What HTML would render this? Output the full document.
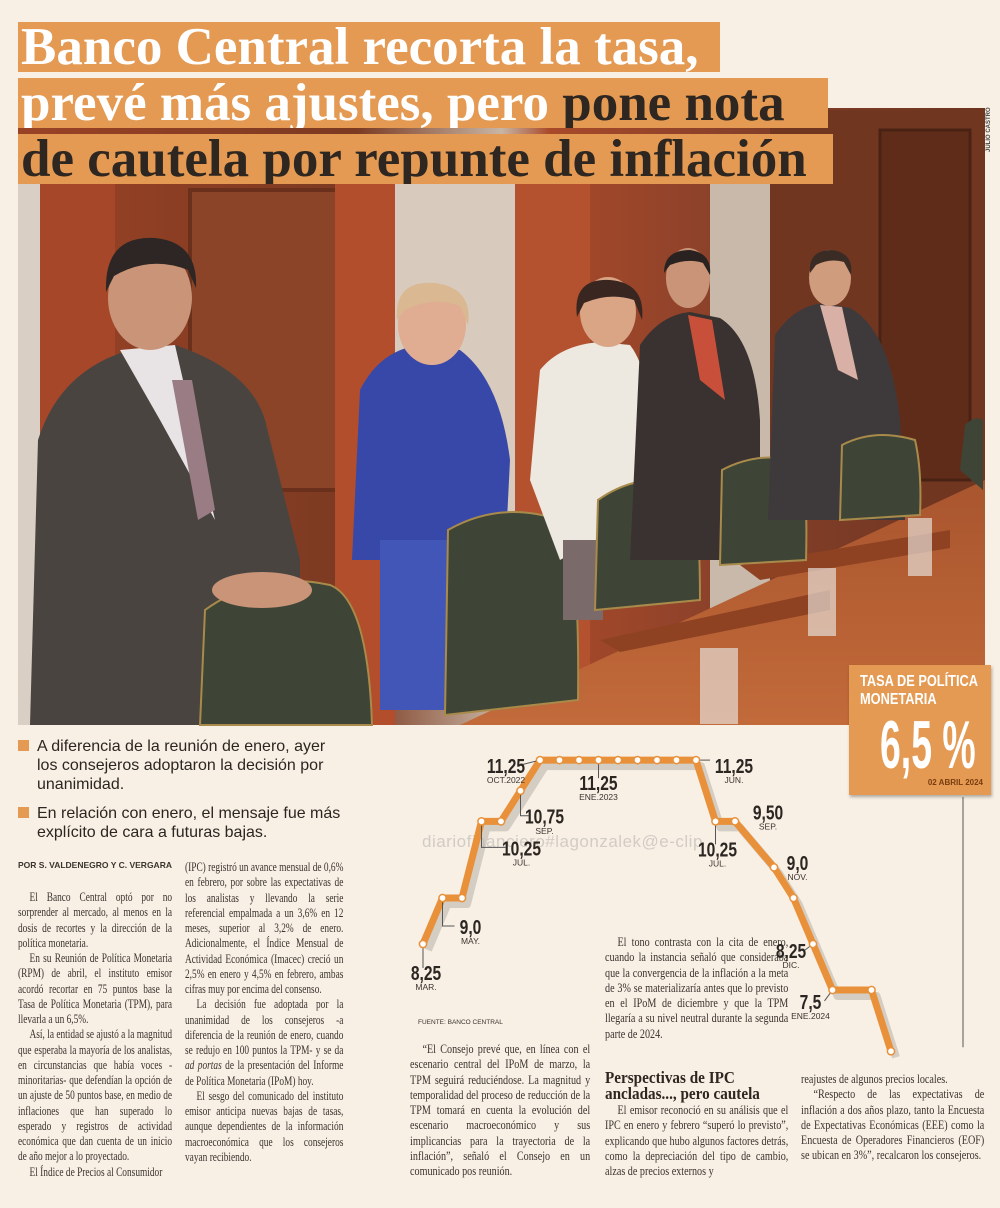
<!DOCTYPE html>
<html><head><meta charset="utf-8">
<style>
html,body{margin:0;padding:0;}
body{width:1000px;height:1208px;background:#f8f0e4;position:relative;overflow:hidden;font-family:"Liberation Serif",serif;color:#2b2622;}
.abs{position:absolute;}
.hl{position:absolute;left:18px;background:#e49a52;font-family:"Liberation Serif",serif;font-weight:bold;font-size:53px;line-height:50px;white-space:nowrap;overflow:hidden;}
.hl div{padding-left:3px;}
.w{color:#fff;} .d{color:#2e2620;}
.col{position:absolute;font-size:13px;line-height:15.25px;text-align:justify;color:#3a3430;transform:scaleX(0.78);transform-origin:left top;}
.col.n{transform:scaleX(0.72);}
.col p{margin:0;text-indent:16px;}
.bul{position:absolute;left:18px;font-family:"Liberation Sans",sans-serif;font-size:16px;line-height:19px;color:#2b2622;}
.bul span{display:inline-block;width:11px;height:11px;background:#e49a52;margin-right:8px;}
</style></head>
<body>
<svg class="abs" style="left:0;top:0" width="1000" height="730" viewBox="0 0 1000 730">
  <defs>
    <linearGradient id="wood" x1="0" x2="1"><stop offset="0" stop-color="#9a4226"/><stop offset="0.35" stop-color="#7b3a22"/><stop offset="0.5" stop-color="#c8b5a4"/><stop offset="0.55" stop-color="#a8492a"/><stop offset="0.75" stop-color="#86402a"/><stop offset="1" stop-color="#6c3420"/></linearGradient>
    <linearGradient id="tbl" x1="0" y1="0" x2="0" y2="1"><stop offset="0" stop-color="#a9552e"/><stop offset="1" stop-color="#c26a3a"/></linearGradient>
  </defs>
  <rect x="18" y="108" width="967" height="617" fill="url(#wood)"/>
  <rect x="18" y="180" width="22" height="545" fill="#d9cfc4"/>
  <rect x="40" y="180" width="75" height="545" fill="#a6472a"/>
  <rect x="190" y="190" width="150" height="300" fill="#8c4428" stroke="#6a301c" stroke-width="4"/>
  <rect x="335" y="180" width="60" height="545" fill="#b24e2c"/>
  <rect x="395" y="180" width="130" height="420" fill="#d8cabd"/>
  <rect x="515" y="180" width="75" height="500" fill="#b4512e"/>
  <rect x="710" y="180" width="60" height="430" fill="#c9b9aa"/>
  <rect x="770" y="110" width="215" height="400" fill="#713620"/>
  <rect x="880" y="130" width="90" height="350" fill="#5f2c1a" stroke="#4a2214" stroke-width="3"/>
  <polygon points="460,725 985,480 985,725" fill="url(#tbl)"/>
  <polygon points="600,640 830,590 830,610 620,652" fill="#8e4222"/>
  <polygon points="740,565 950,530 950,548 760,580" fill="#8e4222"/>
  <path d="M30,725 L38,440 Q60,370 130,350 L175,345 Q250,370 265,420 L300,560 L300,725 Z" fill="#4a4440"/>
  <polygon points="120,350 175,345 215,520 160,420" fill="#e8e4e6"/>
  <polygon points="172,380 192,380 215,510 198,520" fill="#9a7d84"/>
  <ellipse cx="150" cy="298" rx="42" ry="52" fill="#c99477"/>
  <path d="M106,292 Q104,235 155,238 Q198,242 196,288 L188,270 Q150,255 114,276 Z" fill="#2e2624"/>
  <path d="M200,725 L205,610 Q260,570 330,585 Q368,600 372,725 Z" fill="#3f4536" stroke="#a88a4a" stroke-width="2"/>
  <ellipse cx="262" cy="590" rx="50" ry="18" fill="#c99477"/>
  <path d="M352,560 L360,390 Q380,350 420,345 L460,350 Q500,380 510,460 L505,560 Z" fill="#3848a8"/>
  <rect x="380" y="540" width="80" height="170" fill="#4256b8"/>
  <ellipse cx="432" cy="325" rx="34" ry="40" fill="#e0ad92"/>
  <path d="M397,320 Q394,280 435,283 Q473,288 468,325 L460,306 Q432,296 405,310Z" fill="#d9b892"/>
  <path d="M445,715 L448,530 Q500,500 560,520 Q580,540 578,700 Z" fill="#3f4536" stroke="#a88a4a" stroke-width="2"/>
  <path d="M530,480 L540,370 Q560,345 600,342 L630,345 Q650,370 660,460 L650,510 L560,560 Z" fill="#ede8e0"/>
  <rect x="563" y="540" width="40" height="80" fill="#7b6a6a"/>
  <ellipse cx="608" cy="312" rx="28" ry="35" fill="#d9a585"/>
  <path d="M577,317 Q572,278 610,280 Q646,283 642,320 L634,300 Q610,292 584,303Z" fill="#3a2620"/>
  <path d="M595,610 L598,500 Q640,470 690,485 Q700,510 700,600 Z" fill="#3f4536" stroke="#a88a4a" stroke-width="2"/>
  <path d="M630,560 L640,345 Q660,315 690,312 L720,318 Q755,340 760,420 L760,560Z" fill="#3a3230"/>
  <polygon points="688,315 712,320 725,400 700,380" fill="#c8503a"/>
  <ellipse cx="688" cy="278" rx="22" ry="30" fill="#c99477"/>
  <path d="M664,273 Q664,250 690,250 Q712,253 710,275 L703,263 Q688,258 670,265Z" fill="#2a2220"/>
  <path d="M720,565 L722,470 Q760,450 800,462 Q808,490 806,560 Z" fill="#3f4536" stroke="#a88a4a" stroke-width="2"/>
  <path d="M768,520 L775,335 Q795,305 825,303 L850,308 Q890,330 900,420 L905,520Z" fill="#3e3a3c"/>
  <polygon points="820,305 842,307 858,380 838,370" fill="#d8b0a6"/>
  <ellipse cx="830" cy="278" rx="21" ry="28" fill="#d09c7e"/>
  <path d="M810,273 Q808,250 832,250 Q854,253 851,275 L844,262 Q830,258 816,265Z" fill="#3a2c24"/>
  <path d="M840,520 L842,445 Q875,428 915,440 Q922,470 920,515 Z" fill="#3f4536" stroke="#a88a4a" stroke-width="2"/>
  <path d="M960,470 L965,425 Q975,415 983,420 L983,490Z" fill="#3f4536"/>
  <rect x="908" y="518" width="24" height="58" fill="#e6ddd6" opacity="0.7"/>
  <rect x="808" y="568" width="28" height="68" fill="#e6ddd6" opacity="0.7"/>
  <rect x="700" y="648" width="38" height="76" fill="#e6ddd6" opacity="0.7"/>
  <text x="990" y="152" transform="rotate(-90 990 152)" font-family="Liberation Sans" font-size="6" font-weight="bold" fill="#444">JULIO CASTRO</text>
</svg>

<div class="hl w" style="top:22px;width:702px;height:50px;"><div>Banco Central recorta la tasa,</div></div>
<div class="hl" style="top:78px;width:810px;height:50px;"><div><span class="w">prevé más ajustes, pero </span><span class="d">pone nota</span></div></div>
<div class="hl d" style="top:134px;width:815px;height:50px;"><div>de cautela por repunte de inflación</div></div>

<div class="bul" style="top:737px;width:380px;"><span></span>A diferencia de la reunión de enero, ayer<br><span style="visibility:hidden"></span>los consejeros adoptaron la decisión por<br><span style="visibility:hidden"></span>unanimidad.</div>
<div class="bul" style="top:804px;width:380px;"><span></span>En relación con enero, el mensaje fue más<br><span style="visibility:hidden"></span>explícito de cara a futuras bajas.</div>

<div class="abs" style="left:18px;top:860px;font-family:'Liberation Sans',sans-serif;font-size:8.5px;font-weight:bold;color:#3a3430;">POR S. VALDENEGRO Y C. VERGARA</div>

<div class="col n" style="left:18px;top:889px;width:214px;">
<p>El Banco Central optó por no sorprender al mercado, al menos en la dosis de recortes y la dirección de la política monetaria.</p>
<p>En su Reunión de Política Monetaria (RPM) de abril, el instituto emisor acordó recortar en 75 puntos base la Tasa de Política Monetaria (TPM), para llevarla a un 6,5%.</p>
<p>Así, la entidad se ajustó a la magnitud que esperaba la mayoría de los analistas, en circunstancias que había voces -minoritarias- que defendían la opción de un ajuste de 50 puntos base, en medio de inflaciones que han superado lo esperado y registros de actividad económica que dan cuenta de un inicio de año mejor a lo proyectado.</p>
<p>El Índice de Precios al Consumidor</p>
</div>
<div class="col n" style="left:185px;top:859px;width:220px;">
<p style="text-indent:0">(IPC) registró un avance mensual de 0,6% en febrero, por sobre las expectativas de los analistas y llevando la serie referencial empalmada a un 3,6% en 12 meses, superior al 3,2% de enero. Adicionalmente, el Índice Mensual de Actividad Económica (Imacec) creció un 2,5% en enero y 4,5% en febrero, ambas cifras muy por encima del consenso.</p>
<p>La decisión fue adoptada por la unanimidad de los consejeros -a diferencia de la reunión de enero, cuando se redujo en 100 puntos la TPM- y se da <i>ad portas</i> de la presentación del Informe de Política Monetaria (IPoM) hoy.</p>
<p>El sesgo del comunicado del instituto emisor anticipa nuevas bajas de tasas, aunque dependientes de la información macroeconómica que los consejeros vayan recibiendo.</p>
</div>
<div class="col" style="left:410px;top:1041px;width:231px;">
<p>“El Consejo prevé que, en línea con el escenario central del IPoM de marzo, la TPM seguirá reduciéndose. La magnitud y temporalidad del proceso de reducción de la TPM tomará en cuenta la evolución del escenario macroeconómico y sus implicancias para la trayectoria de la inflación”, señaló el Consejo en un comunicado pos reunión.</p>
</div>
<div class="col" style="left:605px;top:934px;width:235px;">
<p>El tono contrasta con la cita de enero, cuando la instancia señaló que consideraba que la convergencia de la inflación a la meta de 3% se materializaría antes que lo previsto en el IPoM de diciembre y que la TPM llegaría a su nivel neutral durante la segunda parte de 2024.</p>
</div>
<div class="abs" style="left:605px;top:1070px;font-size:16.5px;line-height:16px;font-weight:bold;color:#2e2620;transform:scaleX(0.92);transform-origin:left;">Perspectivas de IPC<br>ancladas..., pero cautela</div>
<div class="col" style="left:605px;top:1102px;width:235px;">
<p>El emisor reconoció en su análisis que el IPC en enero y febrero “superó lo previsto”, explicando que hubo algunos factores detrás, como la depreciación del tipo de cambio, alzas de precios externos y</p>
</div>
<div class="col" style="left:801px;top:1071px;width:235px;">
<p style="text-indent:0">reajustes de algunos precios locales.</p>
<p>“Respecto de las expectativas de inflación a dos años plazo, tanto la Encuesta de Expectativas Económicas (EEE) como la Encuesta de Operadores Financieros (EOF) se ubican en 3%”, recalcaron los consejeros.</p>
</div>

<div class="abs" style="left:422px;top:832px;font-family:'Liberation Sans',sans-serif;font-size:17px;color:#d2ccc6;letter-spacing:0.5px;">diariofinanciero#lagonzalek@e-clip</div>

<div class="abs" style="left:849px;top:665px;width:142px;height:130px;background:#e49a52;box-shadow:1px 2px 3px rgba(0,0,0,0.3);color:#fff;font-family:'Liberation Sans',sans-serif;overflow:hidden;">
  <div style="position:absolute;left:11px;top:8px;font-size:16px;line-height:18px;font-weight:bold;transform:scaleX(0.8);transform-origin:left;white-space:nowrap;">TASA DE POLÍTICA<br>MONETARIA</div>
  <div style="position:absolute;left:31px;top:46px;font-size:68px;line-height:68px;font-weight:bold;transform:scaleX(0.55);transform-origin:left;white-space:nowrap;">6,5 %</div>
  <div style="position:absolute;right:8px;top:113px;font-size:8px;font-weight:bold;color:#7a3d10;">02 ABRIL 2024</div>
</div>

<svg class="abs" style="left:0;top:0" width="1000" height="1208" id="chart"></svg>
<script>
const monthIdx = [0,1,2,3,4,5,6,7,8,9,10,11,12,13,14,15,16,18,19,20,21,23,24];
const values = [8.25,9.0,9.0,10.25,10.25,10.75,11.25,11.25,11.25,11.25,11.25,11.25,11.25,11.25,11.25,10.25,10.25,9.5,9.0,8.25,7.5,7.5,6.5];
const labelPoints = [0,1,3,5,6,9,14,15,17,18,19,20];
const labelValues = ["8,25","9,0","10,25","10,75","11,25","11,25","11,25","10,25","9,50","9,0","8,25","7,5"];
const labelMonths = ["MAR.","MAY.","JUL.","SEP.","OCT.2022","ENE.2023","JUN.","JUL.","SEP.","NOV.","DIC.","ENE.2024"];
const labelLayout = [[3,36,"below"],[28,36,"br"],[40,34,"br"],[24,33,"br"],[-34,13,"left"],[0,30,"below"],[38,13,"right"],[2,35,"below"],[-6,-48,"none"],[4,-28,"none"],[-22,14,"left"],[-22,19,"left"]];
const X0=423, DX=19.5;
const xs = i => X0 + i*DX;
const ys = v => 944 - (v-8.25)*61.3;
const svg=document.getElementById('chart');
const NS="http://www.w3.org/2000/svg";
function mk(t,a){const e=document.createElementNS(NS,t);for(const k in a)e.setAttribute(k,a[k]);svg.appendChild(e);return e;}
const pts=monthIdx.map((m,i)=>[xs(m),ys(values[i])]);
const d=pts.map((p,i)=>(i?'L':'M')+p[0].toFixed(1)+','+p[1].toFixed(1)).join(' ');
const sh=mk('path',{d:d,fill:'none',stroke:'#bdb6ae','stroke-width':8,'stroke-linejoin':'round',transform:'translate(5,6)',opacity:0.6});


const ln=mk('path',{d:d,fill:'none',stroke:'#e8913a','stroke-width':7,'stroke-linejoin':'round'});


const vl=mk('line',{x1:963,y1:797,x2:963,y2:pts[pts.length-1][1]-4,stroke:'#555','stroke-width':1});


labelPoints.forEach((pi,k)=>{
  const [px,py]=pts[pi];const [dx,dy,type]=labelLayout[k];
  const tx=px+dx, ty=py+dy;
  let l=null;
  if(type==="below"){l=mk('path',{d:`M${px},${py} L${px},${ty-12}`,stroke:'#555','stroke-width':1,fill:'none'});}
  if(type==="br"){l=mk('path',{d:`M${px},${py} L${px},${ty-8} L${tx-16},${ty-8}`,stroke:'#555','stroke-width':1,fill:'none'});}
  if(type==="left"){l=mk('path',{d:`M${px},${py} L${tx+14},${ty-8}`,stroke:'#555','stroke-width':1,fill:'none'});}
  if(type==="right"){l=mk('path',{d:`M${px},${py} L${tx-24},${ty-13}`,stroke:'#555','stroke-width':1,fill:'none'});}
  if(l){
    
    
  }
  const t=mk('text',{x:tx,y:ty,'text-anchor':'middle','font-family':'Liberation Sans Narrow, Liberation Sans, sans-serif','font-size':20,'font-weight':'bold',fill:'#2b2622',transform:`translate(${tx},0) scale(0.78,1) translate(${-tx},0)`});
  t.textContent=labelValues[k];
  
  
  const m=mk('text',{x:tx,y:ty+10,'text-anchor':'middle','font-family':'Liberation Sans Narrow, Liberation Sans, sans-serif','font-size':8.5,fill:'#3a3430'});
  m.textContent=labelMonths[k];
  
  
});
pts.forEach(p=>{
  const c=mk('circle',{cx:p[0],cy:p[1],r:3.6,fill:'#fff',stroke:'#e8913a','stroke-width':1.5});
  
  
});
const src=mk('text',{x:418,y:1024,'font-family':'Liberation Sans, sans-serif','font-size':6.5,fill:'#3a3430'});
src.textContent="FUENTE: BANCO CENTRAL";


</script>
</body></html>
